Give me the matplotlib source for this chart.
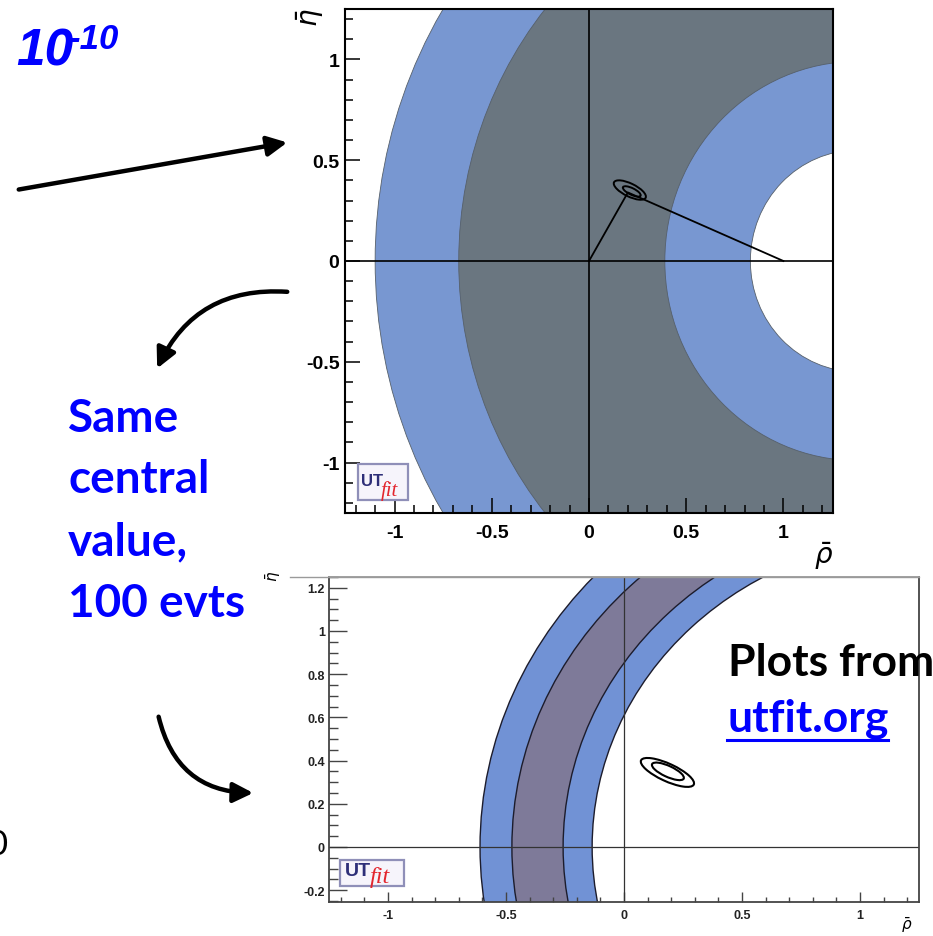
import matplotlib
matplotlib.use('Agg')
import matplotlib.pyplot as plt
from matplotlib.patches import Circle, Ellipse, FancyArrowPatch, Rectangle
from matplotlib.lines import Line2D
from matplotlib.ticker import MultipleLocator

W, H = 933, 937

# ---- upper panel (rho-bar / eta-bar plane) ----
top_ring_centers = [1.31, 1.31, 1.38, 1.38]
top_ring_radii = [2.41, 1.98, 0.99, 0.55]
top_ring_colors = ['#7897d1', '#6a7680', '#7897d1', 'white']
top_apex = (0.20, 0.34)
top_ell_x = [0.21, 0.22]
top_ell_y = [0.352, 0.345]
top_ell_w = [0.18, 0.10]
top_ell_h = [0.065, 0.033]
top_ell_angle = -25
top_ticks = [-1, -0.5, 0, 0.5, 1]
top_ticklabels = ['-1', '-0.5', '0', '0.5', '1']

# ---- lower panel (same central value, 100 evts) ----
bot_ring_centers = [1.257, 1.231, 1.278, 1.305]
bot_ring_radii = [1.867, 1.706, 1.536, 1.44]
bot_ring_colors = ['#7192d5', '#7e7a99', '#7192d5', 'white']
bot_ell_x = [0.184, 0.186]
bot_ell_y = [0.345, 0.35]
bot_ell_w = [0.25, 0.15]
bot_ell_h = [0.08, 0.05]
bot_ell_angle = -27
bot_xticks = [-1, -0.5, 0, 0.5, 1]
bot_xticklabels = ['-1', '-0.5', '0', '0.5', '1']
bot_yticks = [-0.2, 0, 0.2, 0.4, 0.6, 0.8, 1, 1.2]
bot_yticklabels = ['-0.2', '0', '0.2', '0.4', '0.6', '0.8', '1', '1.2']

# slide text
note_lines = ['Same', 'central', 'value,', '100 evts']
note_baselines = [432, 493, 555, 617]

BLUE = '#0000ff'


def fx(x):
    return x / W


def fy(y):
    return 1 - y / H


def ax_rect(left, top, right, bottom):
    return [fx(left), fy(bottom), (right - left) / W, (bottom - top) / H]


def draw_logo(fig, x0, y0, x1, y1, fs):
    box = Rectangle((fx(x0), fy(y1)), (x1 - x0) / W, (y1 - y0) / H,
                    transform=fig.transFigure, facecolor='#f6f4fb',
                    edgecolor='#8f8fb8', lw=1.6, zorder=10)
    fig.add_artist(box)
    w = x1 - x0
    h = y1 - y0
    fig.text(fx(x0 + 0.07 * w), fy(y0 + 0.58 * h), 'UT', color='#2e2f78',
             fontsize=fs, fontweight='bold', family='Liberation Sans',
             va='baseline', zorder=11)
    fig.text(fx(x0 + 0.46 * w), fy(y0 + 0.86 * h), 'fit', color='#e3262e',
             fontsize=fs * 1.25, style='italic', family='Liberation Serif',
             va='baseline', zorder=11)


plt.rcParams['mathtext.fontset'] = 'dejavusans'
fig = plt.figure(figsize=(W / 100, H / 100), dpi=100)

# ================= upper panel =================
ax1 = fig.add_axes(ax_rect(345, 10, 833, 514))
ax1.set_xlim(-1.255, 1.255)
ax1.set_ylim(-1.25, 1.25)
for c, r, col in zip(top_ring_centers, top_ring_radii, top_ring_colors):
    ax1.add_patch(Circle((c, 0), r, facecolor=col, edgecolor='#56606b', lw=0.6, zorder=1))
ax1.axhline(0, color='black', lw=1.2, zorder=3)
ax1.axvline(0, color='black', lw=1.2, zorder=3)
ax1.plot([0, top_apex[0], 1], [0, top_apex[1], 0], color='black', lw=1.3, zorder=4)
for x, y, w, h in zip(top_ell_x, top_ell_y, top_ell_w, top_ell_h):
    ax1.add_patch(Ellipse((x, y), w, h, angle=top_ell_angle, fill=False,
                          edgecolor='black', lw=1.4, zorder=5))
ax1.set_xticks(top_ticks)
ax1.set_xticklabels(top_ticklabels)
ax1.set_yticks(top_ticks)
ax1.set_yticklabels(top_ticklabels)
ax1.xaxis.set_minor_locator(MultipleLocator(0.1))
ax1.yaxis.set_minor_locator(MultipleLocator(0.1))
ax1.tick_params(which='both', direction='in', top=False, right=False, width=1.1, colors='black')
ax1.tick_params(which='major', length=11)
ax1.tick_params(which='minor', length=5.5)
ax1.tick_params(axis='x', pad=8)
ax1.tick_params(axis='y', pad=4)
for lab in ax1.get_xticklabels() + ax1.get_yticklabels():
    lab.set_fontfamily('Liberation Sans')
    lab.set_fontweight('bold')
    lab.set_fontsize(14)
for sp in ax1.spines.values():
    sp.set_linewidth(1.5)
    sp.set_zorder(6)

# ================= lower panel =================
ax2 = fig.add_axes(ax_rect(329, 578, 919, 903))
ax2.set_xlim(-1.25, 1.25)
ax2.set_ylim(-0.255, 1.25)
for c, r, col in zip(bot_ring_centers, bot_ring_radii, bot_ring_colors):
    ax2.add_patch(Circle((c, 0), r, facecolor=col, edgecolor='#1c1c2c', lw=1.0, zorder=1))
ax2.axhline(0, color='#333333', lw=0.9, zorder=3)
ax2.axvline(0, color='#333333', lw=0.9, zorder=3)
for x, y, w, h in zip(bot_ell_x, bot_ell_y, bot_ell_w, bot_ell_h):
    ax2.add_patch(Ellipse((x, y), w, h, angle=bot_ell_angle, fill=False,
                          edgecolor='black', lw=1.5, zorder=5))
ax2.set_xticks(bot_xticks)
ax2.set_xticklabels(bot_xticklabels)
ax2.set_yticks(bot_yticks)
ax2.set_yticklabels(bot_yticklabels)
ax2.xaxis.set_minor_locator(MultipleLocator(0.1))
ax2.yaxis.set_minor_locator(MultipleLocator(0.05))
ax2.tick_params(which='both', direction='in', top=False, right=False, width=1.0, colors='#444444')
ax2.tick_params(axis='x', which='major', length=7, pad=5)
ax2.tick_params(axis='x', which='minor', length=3.6)
ax2.tick_params(axis='y', which='major', length=13, pad=3)
ax2.tick_params(axis='y', which='minor', length=6.5)
for lab in ax2.get_xticklabels() + ax2.get_yticklabels():
    lab.set_fontfamily('Liberation Sans')
    lab.set_fontweight('bold')
    lab.set_fontsize(9)
    lab.set_color('#222222')
for sp in ax2.spines.values():
    sp.set_linewidth(1.3)
    sp.set_color('#444444')
    sp.set_zorder(6)
ax2.spines['top'].set_color('#9a9a9a')
fig.add_artist(Line2D([fx(290), fx(919)], [fy(578), fy(578)], color='#9a9a9a', lw=1.0))

# axis labels
fig.text(fx(310), fy(18), r'$\bar{\eta}$', rotation=90, fontsize=20, ha='center', va='center')
fig.text(fx(824), fy(556), r'$\bar{\rho}$', fontsize=20, ha='center', va='center',
         bbox=dict(facecolor='white', edgecolor='none', pad=1), zorder=12)
fig.text(fx(273), fy(576), r'$\bar{\eta}$', rotation=90, fontsize=11, ha='center', va='center')
fig.text(fx(907), fy(925), r'$\bar{\rho}$', fontsize=11, ha='center', va='center')

# UTfit logos
draw_logo(fig, 358, 465, 408, 501, 12)
draw_logo(fig, 340, 861, 404, 887, 14)

# ================= slide annotations =================
fig.text(fx(16), fy(65), '10', color=BLUE, fontsize=37, fontweight='bold',
         style='italic', family='Liberation Sans', va='baseline')
fig.text(fx(68), fy(49), '-10', color=BLUE, fontsize=25, fontweight='bold',
         style='italic', family='Liberation Sans', va='baseline')

for line, yb in zip(note_lines, note_baselines):
    fig.text(fx(68), fy(yb), line, color=BLUE, fontsize=33, fontweight='bold',
             family='Lato', va='baseline')

fig.text(fx(728), fy(676), 'Plots from', color='black', fontsize=32, fontweight='bold',
         family='Lato', va='baseline')
link = fig.text(fx(727), fy(732), 'utfit.org', color=BLUE, fontsize=32, fontweight='bold',
                family='Lato', va='baseline')
fig.canvas.draw()
bb = link.get_window_extent()
fig.add_artist(Line2D([bb.x0 / W, bb.x1 / W], [fy(741), fy(741)], color=BLUE, lw=2.2))

fig.text(fx(-12), fy(855), '0', color='black', fontsize=25, family='Lato', va='baseline')

arrow_kw = dict(transform=fig.transFigure, color='black', lw=3.2, mutation_scale=20,
                arrowstyle='-|>,head_length=0.6,head_width=0.3', zorder=12)
fig.add_artist(FancyArrowPatch((fx(16), fy(191)), (fx(290), fy(143)), **arrow_kw))
fig.add_artist(FancyArrowPatch((fx(290), fy(293)), (fx(156), fy(372)),
                               connectionstyle='arc3,rad=0.35', **arrow_kw))
fig.add_artist(FancyArrowPatch((fx(158), fy(715)), (fx(256), fy(794)),
                               connectionstyle='arc3,rad=0.4', **arrow_kw))

fig.savefig('out.png', dpi=100)
